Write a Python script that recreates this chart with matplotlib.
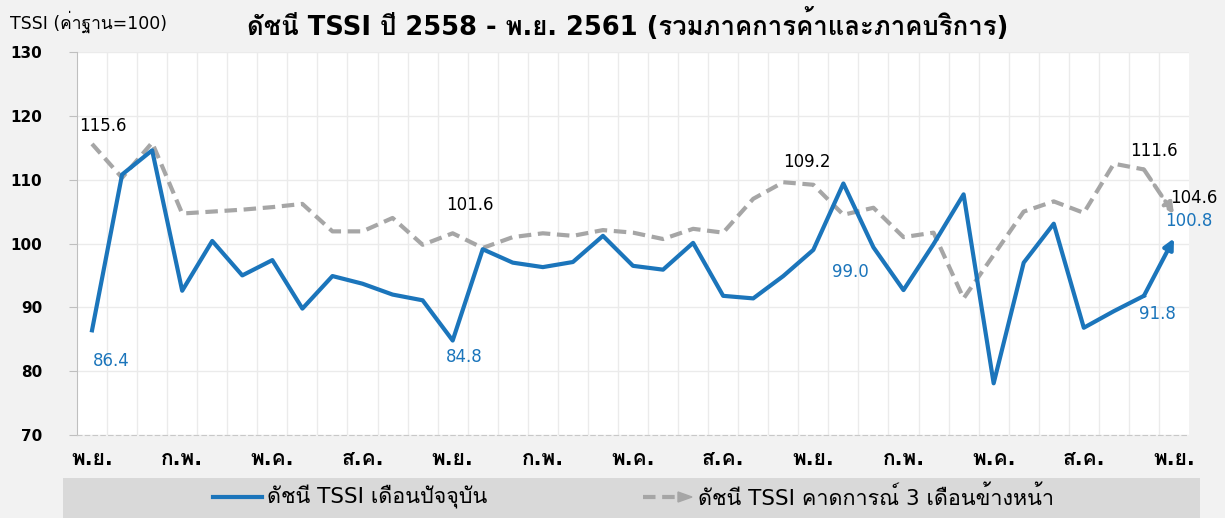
import matplotlib
matplotlib.use('Agg')
import matplotlib.pyplot as plt
from matplotlib import font_manager
from matplotlib.ft2font import FT2Font
from matplotlib.lines import Line2D
from matplotlib.patches import Rectangle

# ข้อมูลดัชนี TSSI พ.ย. 2558 - พ.ย. 2561
months = ['พ.ย.', 'ธ.ค.', 'ม.ค.', 'ก.พ.', 'มี.ค.', 'เม.ย.', 'พ.ค.', 'มิ.ย.', 'ก.ค.', 'ส.ค.', 'ก.ย.', 'ต.ค.'] * 3 + ['พ.ย.']
current = [86.4, 110.8, 114.6, 92.6, 100.4, 95.0, 97.4, 89.8, 94.9, 93.7, 92.0, 91.1,
           84.8, 99.1, 97.0, 96.3, 97.1, 101.2, 96.5, 95.9, 100.1, 91.8, 91.4, 94.9,
           99.0, 109.4, 99.4, 92.7, 99.9, 107.7, 78.1, 97.0, 103.1, 86.8, 89.4, 91.8,
           100.8]
expected = [115.6, 110.3, 115.8, 104.7, 105.0, 105.3, 105.7, 106.2, 101.9, 101.9, 104.0, 99.8,
            101.6, 99.3, 101.0, 101.6, 101.2, 102.1, 101.7, 100.7, 102.3, 101.7, 107.0, 109.6,
            109.2, 104.5, 105.6, 101.0, 101.7, 91.4, 98.2, 105.0, 106.6, 104.8, 112.5, 111.6,
            104.6]
yticks = [70, 80, 90, 100, 110, 120, 130]
# ป้ายข้อมูล: (index, offset x px, offset y px)
cur_labels = [(0, 19, -31), (12, 12, -16), (24, 37, -22), (35, 14, -18), (36, 15, 17)]
exp_labels = [(0, 11, 18), (12, 17, 28), (24, -6, 23), (35, 10, 18), (36, 20, 16)]


def thai_fonts():
    names = []
    for f in font_manager.fontManager.ttflist:
        try:
            if 0x0E14 in FT2Font(f.fname).get_charmap() and f.name not in names:
                names.append(f.name)
        except Exception:
            pass
    return names


plt.rcParams['font.family'] = ['DejaVu Sans'] + thai_fonts()

blue = '#1b75bb'
gray = '#a6a6a6'
bg = '#f2f2f2'

fig = plt.figure(figsize=(12.25, 5.18), dpi=100, facecolor=bg)
ax = fig.add_axes([77 / 1225, 1 - 435 / 518, 1112 / 1225, 383 / 518])
ax.set_facecolor('white')

x = list(range(len(current)))
ax.plot(x[:-1], current[:-1], color=blue, lw=3, zorder=4)
ax.plot(x[:-1], expected[:-1], color=gray, lw=3, ls=(0, (3, 1.6)), zorder=3)
ax.annotate('', xy=(x[-1], current[-1]), xytext=(x[-2], current[-2]),
            arrowprops=dict(arrowstyle='-|>,head_length=0.6,head_width=0.3', color=blue, lw=3,
                            shrinkA=0, shrinkB=0), zorder=4)
ax.annotate('', xy=(x[-1], expected[-1]), xytext=(x[-2], expected[-2]),
            arrowprops=dict(arrowstyle='-|>,head_length=0.6,head_width=0.3', color=gray, lw=3,
                            ls=(0, (3, 1.6)), shrinkA=0, shrinkB=0), zorder=3)

for i, dx, dy in cur_labels:
    ax.annotate(f'{current[i]:.1f}', xy=(i, current[i]), xytext=(dx, dy), textcoords='offset pixels',
                ha='center', va='center', color=blue, fontsize=12, annotation_clip=False)
for i, dx, dy in exp_labels:
    ax.annotate(f'{expected[i]:.1f}', xy=(i, expected[i]), xytext=(dx, dy), textcoords='offset pixels',
                ha='center', va='center', color='black', fontsize=12, annotation_clip=False)

ax.set_xlim(-0.5, len(current) - 0.5)
ax.set_ylim(70, 130)
ax.set_yticks(yticks)
ax.set_yticklabels([str(v) for v in yticks], fontweight='bold', fontsize=11, family='DejaVu Sans')
ax.set_xticks(x[::3])
ax.set_xticklabels(months[::3], fontweight='bold', fontsize=15)
ax.set_xticks([i + 0.5 for i in x[:-1]], minor=True)
ax.tick_params(axis='x', which='both', length=0, pad=10)
ax.tick_params(axis='y', length=6, color='#bfbfbf', pad=19)
ax.grid(axis='y', color='#ebebeb', lw=1)
ax.grid(axis='x', which='minor', color='#ebebeb', lw=1)
ax.set_axisbelow(True)
for s in ['top', 'right']:
    ax.spines[s].set_visible(False)
ax.spines['left'].set_color('#bfbfbf')
ax.spines['bottom'].set_color('#c8c8c8')
ax.spines['bottom'].set_linestyle((0, (4, 3)))

fig.text(628 / 1225, 1 - 25 / 518, 'ดัชนี TSSI ปี 2558 - พ.ย. 2561 (รวมภาคการค้าและภาคบริการ)',
         ha='center', va='center', fontsize=18.5, fontweight='bold')
fig.text(10 / 1225, 1 - 22 / 518, 'TSSI (ค่าฐาน=100)', ha='left', va='center', fontsize=12.5)

# กล่องคำอธิบาย
fig.patches.append(Rectangle((63 / 1225, 0), 1137 / 1225, 40 / 518, transform=fig.transFigure,
                             facecolor='#d9d9d9', edgecolor='none', zorder=0))
ly = 1 - 497 / 518
fig.add_artist(Line2D([213 / 1225, 262 / 1225], [ly, ly], color=blue, lw=3))
fig.text(267 / 1225, ly, 'ดัชนี TSSI เดือนปัจจุบัน', ha='left', va='center', fontsize=15.5)
fig.add_artist(Line2D([643 / 1225, 680 / 1225], [ly, ly], color=gray, lw=3, ls=(0, (3, 1.6))))
fig.patches.append(plt.Polygon([[678 / 1225, ly + 5 / 518], [692 / 1225, ly], [678 / 1225, ly - 5 / 518]],
                               closed=True, transform=fig.transFigure, color=gray))
fig.text(698 / 1225, ly, 'ดัชนี TSSI คาดการณ์ 3 เดือนข้างหน้า', ha='left', va='center', fontsize=15.5)

fig.savefig('out.png', dpi=100, facecolor=bg)
